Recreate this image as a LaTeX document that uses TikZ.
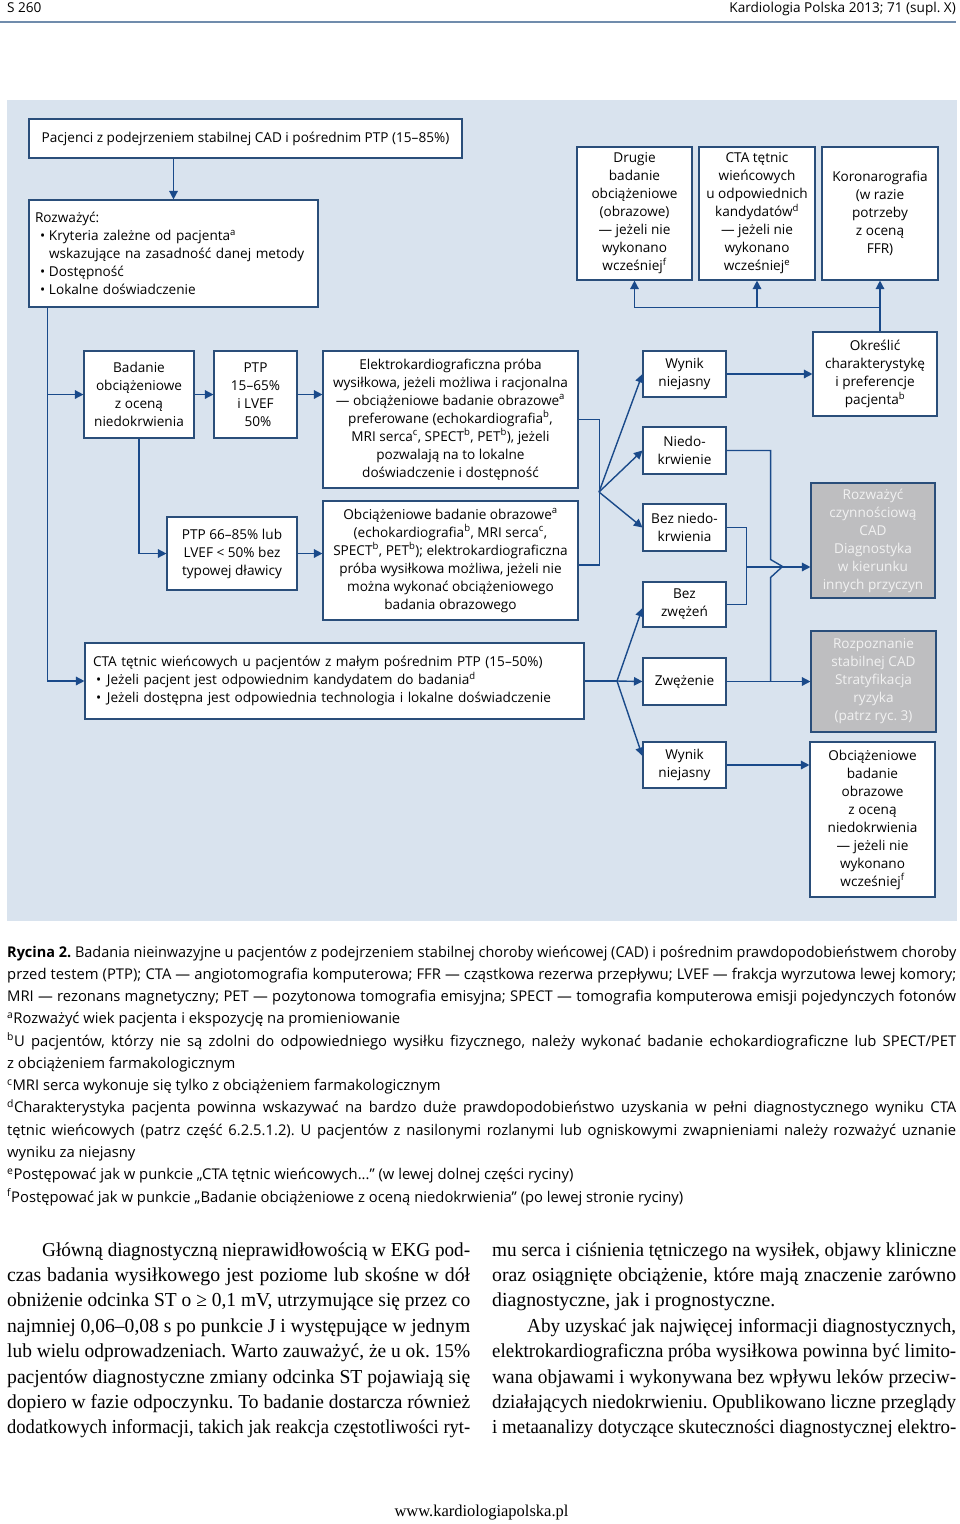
\documentclass[tikz,border=0pt]{standalone}
\usepackage{fontspec}
\usepackage{graphicx}
\setmainfont{Liberation Serif}
\newfontfamily\dgfont{Open Sans}
\newfontfamily\bodyfnt{Liberation Serif}
\usetikzlibrary{arrows.meta}
\frenchspacing
\definecolor{bgc}{RGB}{217,227,238}
\definecolor{boxc}{RGB}{42,78,122}
\definecolor{arrc}{RGB}{26,74,138}
\definecolor{grayf}{RGB}{190,190,192}
\definecolor{grayt}{RGB}{242,242,242}
\definecolor{rulec}{RGB}{112,140,172}
\newcommand\dgf{\dgfont\fontsize{13.6pt}{18pt}\selectfont}
\newcommand\capf{\dgfont\fontsize{14.8pt}{22pt}\selectfont}
\newcommand\hdf{\dgfont\fontsize{13.6pt}{16pt}\selectfont}
\newcommand\bodyf{\bodyfnt\fontsize{19.8pt}{25pt}\selectfont}
\newcommand\footf{\fontsize{16.5pt}{18pt}\selectfont}
\newlength\linew
\newcommand\jline[2]{\settowidth\linew{#2}\ifdim\linew>#1\relax\resizebox{#1}{\height}{#2}\else\makebox[#1][s]{#2}\fi}
\begin{document}
\begin{tikzpicture}[x=1pt,y=-1pt,
 bx/.style={draw=boxc,line width=1.1pt,fill=white,inner sep=0pt,align=center,font=\dgf},
 gbx/.style={bx,fill=grayf,text=grayt},
 arr/.style={draw=arrc,line width=1.4pt,-{Triangle[length=8.5pt,width=8.5pt]}},
 ln/.style={draw=arrc,line width=1.4pt},
 capl/.style={anchor=base west,inner sep=0pt,font=\capf},
 bodyl/.style={anchor=base west,inner sep=0pt,font=\bodyf},
 hdl/.style={inner sep=0pt,font=\hdf}]
\useasboundingbox (0,0) rectangle (960,1524);
\fill[white] (0,0) rectangle (960,1524);
% header
\node[hdl,anchor=base west] (hl) at (7,12) {S 260};
\node[hdl,anchor=base east] (hr) at (956,12) {Kardiologia Polska 2013; 71 (supl. X)};
\draw[rulec,line width=2.6pt] (0,22) -- (956,22);
% diagram background
\fill[bgc] (7,100) rectangle (957,921);
% boxes
\node[bx,minimum width=433pt,minimum height=39pt] (A) at (245.5,138.5) {Pacjenci z podejrzeniem stabilnej CAD i pośrednim PTP (15–85\%)};
\node[bx,minimum width=289pt,minimum height=107pt,text width=277pt,align=left] (B) at (173.5,253.5) {Rozważyć:\\
\hspace*{5pt}\makebox[9pt][l]{•}Kryteria zależne od pacjenta\textsuperscript{a}\\
\hspace*{14pt}wskazujące na zasadność danej metody\\
\hspace*{5pt}\makebox[9pt][l]{•}Dostępność\\
\hspace*{5pt}\makebox[9pt][l]{•}Lokalne doświadczenie};
\node[bx,minimum width=115pt,minimum height=133pt] (Dru) at (634.5,213.5) {Drugie\\badanie\\obciążeniowe\\(obrazowe)\\— jeżeli nie\\wykonano\\wcześniej\textsuperscript{f}};
\node[bx,minimum width=116pt,minimum height=133pt] (CTt) at (757,213.5) {CTA tętnic\\wieńcowych\\u odpowiednich\\kandydatów\textsuperscript{d}\\— jeżeli nie\\wykonano\\wcześniej\textsuperscript{e}};
\node[bx,minimum width=116pt,minimum height=133pt] (Kor) at (880,213.5) {Koronarografia\\(w razie\\potrzeby\\z oceną\\FFR)};
\node[bx,minimum width=110pt,minimum height=87pt] (Bad) at (139,394.5) {Badanie\\obciążeniowe\\z oceną\\niedokrwienia};
\node[bx,minimum width=83pt,minimum height=87pt] (PTP) at (255.5,394.5) {PTP\\15–65\%\\i LVEF\\\hspace*{5pt}50\%};
\node[bx,minimum width=255pt,minimum height=137pt] (Elek) at (450.5,419.5) {Elektrokardiograficzna próba\\wysiłkowa, jeżeli możliwa i racjonalna\\— obciążeniowe badanie obrazowe\textsuperscript{a}\\preferowane (echokardiografia\textsuperscript{b},\\MRI serca\textsuperscript{c}, SPECT\textsuperscript{b}, PET\textsuperscript{b}), jeżeli\\pozwalają na to lokalne\\doświadczenie i dostępność};
\node[bx,minimum width=130pt,minimum height=73pt] (P66) at (232,553.5) {PTP 66–85\% lub\\LVEF < 50\% bez\\typowej dławicy};
\node[bx,minimum width=255pt,minimum height=119pt] (Obc) at (450.5,560.5) {Obciążeniowe badanie obrazowe\textsuperscript{a}\\(echokardiografia\textsuperscript{b}, MRI serca\textsuperscript{c},\\SPECT\textsuperscript{b}, PET\textsuperscript{b}); elektrokardiograficzna\\próba wysiłkowa możliwa, jeżeli nie\\można wykonać obciążeniowego\\badania obrazowego};
\node[bx,minimum width=499pt,minimum height=76pt,text width=483pt,align=left] (CTA) at (334.5,681) {CTA tętnic wieńcowych u pacjentów z małym pośrednim PTP (15–50\%)\\
\hspace*{3pt}\makebox[11pt][l]{•}Jeżeli pacjent jest odpowiednim kandydatem do badania\textsuperscript{d}\\
\hspace*{3pt}\makebox[11pt][l]{•}Jeżeli dostępna jest odpowiednia technologia i lokalne doświadczenie};
\node[bx,minimum width=83pt,minimum height=46pt] (W1) at (684.5,374) {Wynik\\niejasny};
\node[bx,minimum width=83pt,minimum height=47pt] (Nie) at (684.5,450.5) {Niedo-\\krwienie};
\node[bx,minimum width=83pt,minimum height=47pt] (Bn) at (684.5,527.5) {Bez niedo-\\krwienia};
\node[bx,minimum width=83pt,minimum height=45pt] (Bz) at (684.5,604.5) {Bez\\zwężeń};
\node[bx,minimum width=83pt,minimum height=47pt] (Zw) at (684.5,681.5) {Zwężenie};
\node[bx,minimum width=83pt,minimum height=46pt] (W2) at (684.5,765) {Wynik\\niejasny};
\node[bx,minimum width=124pt,minimum height=84pt] (Okr) at (875,374) {Określić\\charakterystykę\\i preferencje\\pacjenta\textsuperscript{b}};
\node[gbx,minimum width=124pt,minimum height=115pt] (Roz) at (873,540.5) {Rozważyć\\czynnościową\\CAD\\Diagnostyka\\w kierunku\\innych przyczyn};
\node[gbx,minimum width=125pt,minimum height=101pt] (Rzp) at (873.5,681.5) {Rozpoznanie\\stabilnej CAD\\Stratyfikacja\\ryzyka\\(patrz ryc. 3)};
\node[bx,minimum width=125pt,minimum height=155pt] (Ob2) at (872.5,819.5) {Obciążeniowe\\badanie\\obrazowe\\z oceną\\niedokrwienia\\— jeżeli nie\\wykonano\\wcześniej\textsuperscript{f}};
% connectors
\draw[arr] (A.south -| B.north) -- (B.north);
\coordinate (bs) at ([xshift=19pt]B.south west);
\draw[arr] (bs) |- (Bad.west);
\draw[arr] (bs) |- (CTA.west);
\draw[arr] (Bad.east) -- (PTP.west);
\draw[arr] (PTP.east) -- (PTP.east -| Elek.west);
\draw[arr] (Bad.south) |- (P66.west);
\draw[arr] (P66.east) -- (P66.east -| Obc.west);
\draw[ln] (Elek.east) -- ++(21,0) |- ([yshift=-4.5pt]Obc.east);
\coordinate (fan1) at (599,492);
\draw[arr] (fan1) -- (W1.west);
\draw[arr] (fan1) -- (Nie.west);
\draw[arr] (fan1) -- (Bn.west);
\coordinate (fan2) at (617,681);
\draw[ln] (CTA.east) -- (fan2);
\draw[arr] (fan2) -- (Zw.west);
\draw[arr] (fan2) -- ([yshift=-3.5pt]Bz.west);
\draw[arr] (fan2) -- ([yshift=9pt]W2.west);
\coordinate (tj) at ([yshift=-27pt]Kor.south);
\draw[arr] (Okr.north -| Kor.south) -- (Kor.south);
\draw[arr] (tj) -| (Dru.south);
\draw[arr] (tj -| CTt.south) -- (CTt.south);
\draw[arr] (W1.east) -- (Okr.west);
\coordinate (nx) at ([xshift=44pt]Nie.east);
\draw[ln] (Nie.east) -- (nx) -- ++(0,109) -- ++(12,7) -- ++(-12,11) -- (nx |- Zw.east);
\draw[ln] (Bn.east) -- ++(20,0) |- (Bz.east);
\coordinate (mj) at (746,567);
\draw[arr] (mj) -- (mj -| Roz.west);
\draw[arr] (Zw.east) -- (Rzp.west);
\draw[arr] (W2.east) -- (W2.east -| Ob2.west);
% caption
\node[capl] (cap1) at (7,957) {\jline{949pt}{\textbf{Rycina 2.} Badania nieinwazyjne u pacjentów z podejrzeniem stabilnej choroby wieńcowej (CAD) i pośrednim prawdopodobieństwem choroby}};
\node[capl] (cap2) at (7,979.3) {\jline{949pt}{przed testem (PTP); CTA — angiotomografia komputerowa; FFR — cząstkowa rezerwa przepływu; LVEF — frakcja wyrzutowa lewej komory;}};
\node[capl] (cap3) at (7,1001.5) {\jline{949pt}{MRI — rezonans magnetyczny; PET — pozytonowa tomografia emisyjna; SPECT — tomografia komputerowa emisji pojedynczych fotonów}};
\node[capl] (cap4) at (7,1023.8) {\textsuperscript{a}Rozważyć wiek pacjenta i ekspozycję na promieniowanie};
\node[capl] (cap5) at (7,1046.1) {\jline{949pt}{\textsuperscript{b}U pacjentów, którzy nie są zdolni do odpowiedniego wysiłku fizycznego, należy wykonać badanie echokardiograficzne lub SPECT/PET}};
\node[capl] (cap6) at (7,1068.4) {z obciążeniem farmakologicznym};
\node[capl] (cap7) at (7,1090.6) {\textsuperscript{c}MRI serca wykonuje się tylko z obciążeniem farmakologicznym};
\node[capl] (cap8) at (7,1112.9) {\jline{949pt}{\textsuperscript{d}Charakterystyka pacjenta powinna wskazywać na bardzo duże prawdopodobieństwo uzyskania w pełni diagnostycznego wyniku CTA}};
\node[capl] (cap9) at (7,1135.2) {\jline{949pt}{tętnic wieńcowych (patrz część 6.2.5.1.2). U pacjentów z nasilonymi rozlanymi lub ogniskowymi zwapnieniami należy rozważyć uznanie}};
\node[capl] (cap10) at (7,1157.5) {wyniku za niejasny};
\node[capl] (cap11) at (7,1179.7) {\textsuperscript{e}Postępować jak w punkcie „CTA tętnic wieńcowych...” (w lewej dolnej części ryciny)};
\node[capl] (cap12) at (7,1202) {\textsuperscript{f}Postępować jak w punkcie „Badanie obciążeniowe z oceną niedokrwienia” (po lewej stronie ryciny)};
% body text, left column
\node[bodyl] (tl1) at (42,1256) {\jline{428pt}{Główną diagnostyczną nieprawidłowością w EKG pod-}};
\node[bodyl] (tl2) at (7,1281.4) {\jline{463pt}{czas badania wysiłkowego jest poziome lub skośne w dół}};
\node[bodyl] (tl3) at (7,1306.8) {\jline{463pt}{obniżenie odcinka ST o ≥ 0,1 mV, utrzymujące się przez co}};
\node[bodyl] (tl4) at (7,1332.2) {\jline{463pt}{najmniej 0,06–0,08 s po punkcie J i występujące w jednym}};
\node[bodyl] (tl5) at (7,1357.6) {\jline{463pt}{lub wielu odprowadzeniach. Warto zauważyć, że u ok. 15\%}};
\node[bodyl] (tl6) at (7,1383) {\jline{463pt}{pacjentów diagnostyczne zmiany odcinka ST pojawiają się}};
\node[bodyl] (tl7) at (7,1408.4) {\jline{463pt}{dopiero w fazie odpoczynku. To badanie dostarcza również}};
\node[bodyl] (tl8) at (7,1433.8) {\jline{463pt}{dodatkowych informacji, takich jak reakcja częstotliwości ryt-}};
% body text, right column
\node[bodyl] (tr1) at (492,1256) {\jline{464pt}{mu serca i ciśnienia tętniczego na wysiłek, objawy kliniczne}};
\node[bodyl] (tr2) at (492,1281.4) {\jline{464pt}{oraz osiągnięte obciążenie, które mają znaczenie zarówno}};
\node[bodyl] (tr3) at (492,1306.8) {diagnostyczne, jak i prognostyczne.};
\node[bodyl] (tr4) at (527,1332.2) {\jline{429pt}{Aby uzyskać jak najwięcej informacji diagnostycznych,}};
\node[bodyl] (tr5) at (492,1357.6) {\jline{464pt}{elektrokardiograficzna próba wysiłkowa powinna być limito-}};
\node[bodyl] (tr6) at (492,1383) {\jline{464pt}{wana objawami i wykonywana bez wpływu leków przeciw-}};
\node[bodyl] (tr7) at (492,1408.4) {\jline{464pt}{działających niedokrwieniu. Opublikowano liczne przeglądy}};
\node[bodyl] (tr8) at (492,1433.8) {\jline{464pt}{i metaanalizy dotyczące skuteczności diagnostycznej elektro-}};
% footer
\node[anchor=base,inner sep=0pt,font=\footf] (ft) at (481.5,1516) {www.kardiologiapolska.pl};
\end{tikzpicture}
\end{document}
